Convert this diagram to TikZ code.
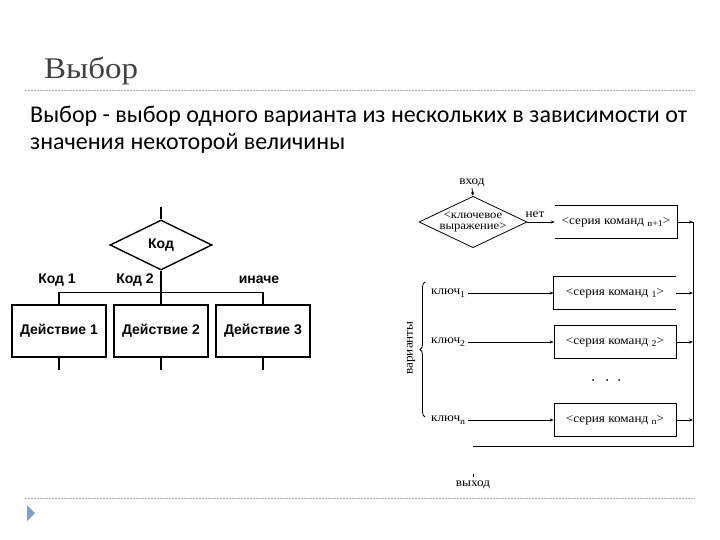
\documentclass[tikz,border=0pt]{standalone}
\usepackage{fontspec}
\setmainfont{Carlito}
\newfontfamily\seriff[FakeStretch=1.1]{Liberation Serif}
\newfontfamily\titlef[FakeStretch=1.1]{Liberation Serif}
\newfontfamily\lsans{Liberation Sans}
\usetikzlibrary{shapes.geometric,arrows.meta,decorations.pathreplacing}
\definecolor{titlegray}{RGB}{64,64,64}
\definecolor{sepgray}{RGB}{170,170,170}
\definecolor{bullet}{RGB}{125,160,200}
\newcommand\sbs[1]{\raisebox{-0.45ex}{\small #1}}
\tikzset{
  bold/.style={font=\lsans\bfseries\fontsize{14}{16}\selectfont},
  actbox/.style={draw, line width=1.4pt, minimum width=94pt, minimum height=52pt, inner sep=0pt, bold},
  thickline/.style={line width=1.4pt},
  small/.style={font=\seriff\fontsize{12}{12}\selectfont},
  cmdbox/.style={minimum width=122pt, minimum height=33pt, inner sep=0pt, small},
  thin/.style={line width=0.8pt},
  arr/.style={thin, -{Stealth[length=4pt,width=3pt]}},
  sep/.style={sepgray, line width=0.8pt, dash pattern=on 2pt off 1pt}
}
\begin{document}
\begin{tikzpicture}[x=1pt,y=-1pt]
\useasboundingbox (0,0) rectangle (720,540);
% header
\node[anchor=base west, inner sep=0, text=titlegray, font=\titlef\fontsize{30}{34}\selectfont] (title) at (44,79) {Выбор};
\coordinate (s1a) at (25,90); \coordinate (s1b) at (695,90);
\draw[sep] (s1a) -- (s1b);
\node[anchor=base west, inner sep=0, font=\fontsize{24}{27}\selectfont] (l1) at (30,123) {Выбор - выбор одного варианта из нескольких в зависимости от};
\node[anchor=base west, inner sep=0, font=\fontsize{24}{27}\selectfont] (l2) at (30,150) {значения некоторой величины};
\coordinate (s2a) at (25,498); \coordinate (s2b) at (695,498);
\draw[sep] (s2a) -- (s2b);
\fill[bullet] (27,505) -- (35,513) -- (27,521) -- cycle;

% left diagram
\coordinate (in) at (161,207);
\node[diamond, draw, thickline, aspect=2, minimum width=102pt, minimum height=50pt, inner sep=0pt, bold] (kod) at (161,245) {Код};
\node[actbox] (d1) at (59,331) {Действие 1};
\node[actbox] (d2) at (161,331) {Действие 2};
\node[actbox] (d3) at (263,331) {Действие 3};
\draw[thickline] (in) -- (kod.north);
\draw[thickline] (kod.south) -- (d2.north);
\draw[thickline] (d1.north) -- ++(0,-12) -| (d3.north);
\draw[thickline] (d1.south) -- ++(0,12);
\draw[thickline] (d2.south) -- ++(0,12);
\draw[thickline] (d3.south) -- ++(0,12);
\node[bold] (c1) at (57,280) {Код 1};
\node[bold] (c2) at (135,280) {Код 2};
\node[bold] (c3) at (259,280) {иначе};

% right diagram
\node[small, inner sep=1pt] (vhod) at (472,183) {вход};
\node[diamond, draw, thin, aspect=2.1, minimum width=103pt, minimum height=49pt, inner sep=0pt, align=center, font=\seriff\fontsize{11.5}{10.5}\selectfont] (key) at (473,222) {<ключевое\\выражение>};
\draw[arr] (vhod.south) -- (key.north);
\node[small] (net) at (535,215) {нет};
\node[cmdbox] (bn1) at (616,222) {<серия команд \sbs{n+1}>};
\draw[arr] (key.east) -- (bn1.west);
\draw[thin] (bn1.north west) -- (bn1.north east) -- (bn1.south east) -- (bn1.south west);

\node[cmdbox] (b1) at (615,293) {<серия команд \sbs{1}>};
\draw[thin] (b1.north east) -- (b1.north west) -- (b1.south west) -- (b1.south east);
\node[cmdbox, draw, thin] (b2) at (615,342) {<серия команд \sbs{2}>};
\node[cmdbox, draw, thin] (bn) at (615,420) {<серия команд \sbs{n}>};

\node[small, anchor=west, inner sep=0] (k1) at (431,293) {ключ\sbs{1}};
\node[small, anchor=west, inner sep=0] (k2) at (431,342) {ключ\sbs{2}};
\node[small, anchor=west, inner sep=0] (kn) at (431,420) {ключ\sbs{n}};
\draw[arr, shorten <=3pt] (k1.east |- b1.west) -- (b1.west);
\draw[arr, shorten <=3pt] (k2.east |- b2.west) -- (b2.west);
\draw[arr, shorten <=3pt] (kn.east |- bn.west) -- (bn.west);

\coordinate (rt) at (693,222);
\coordinate (rb) at (693,446);
\coordinate (lb) at (473,446);
\draw[thin] (bn1.east) -- (rt) -- (rb) -- (lb);
\draw[arr] (b1.east) -- (b1.east -| rt);
\draw[arr] (b2.east) -- (b2.east -| rt);
\draw[arr] (bn.east) -- (bn.east -| rt);
\draw[arr] (bn1.east) -- (rt);

\node[small] (vyhod) at (473,485) {выход};
\coordinate (vt) at (473,474);
\draw[thin] (vt) -- (vyhod.north);

\draw[thin, decorate, decoration={brace, amplitude=5pt}] (425,417) -- (425,282);
\node[small, rotate=90] (var) at (411,348) {варианты};

\fill (593,380) circle (1);
\fill (607,380) circle (1);
\fill (619,380) circle (1);
\end{tikzpicture}
\end{document}
